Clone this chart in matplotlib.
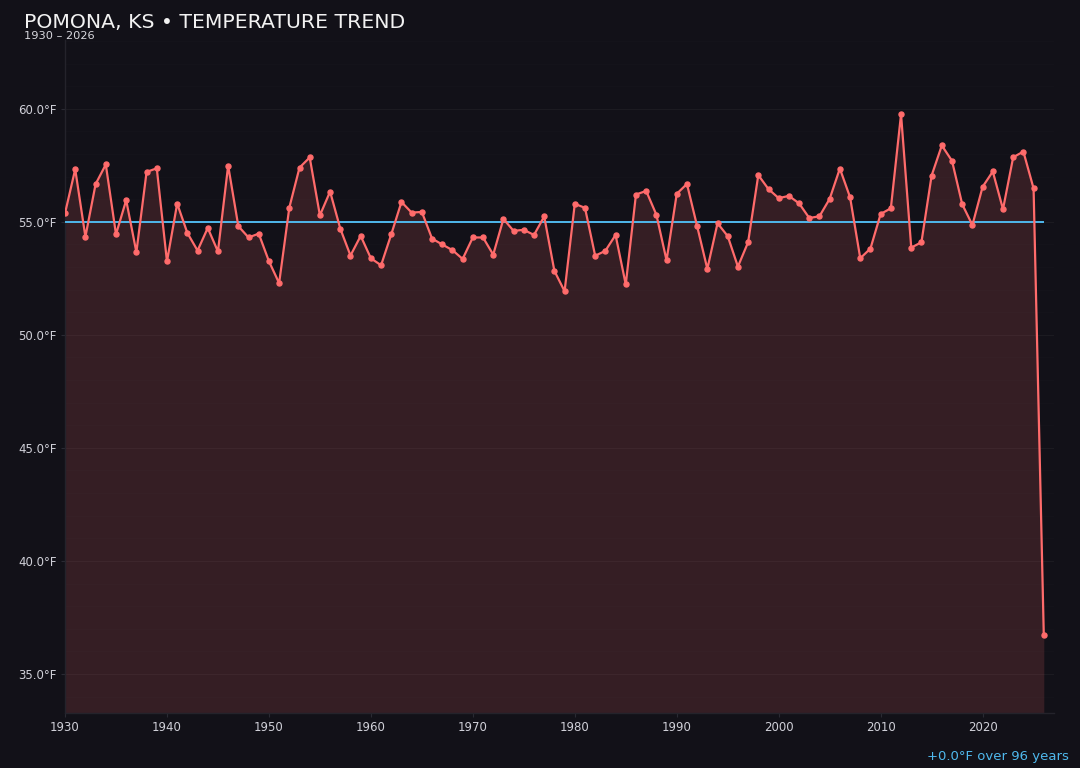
import matplotlib
matplotlib.use("Agg")
import matplotlib.pyplot as plt
from matplotlib.ticker import MultipleLocator, FuncFormatter

# yearly mean temperature, Pomona KS
years = list(range(1930, 2027))
temps = [
    55.38, 57.33, 54.34, 56.67, 57.54, 54.45, 55.96, 53.66, 57.21, 57.37,
    53.25, 55.81, 54.51, 53.73, 54.73, 53.69, 57.49, 54.81, 54.31, 54.48,
    53.26, 52.29, 55.63, 57.40, 57.85, 55.29, 56.34, 54.70, 53.51, 54.38,
    53.39, 53.08, 54.45, 55.88, 55.41, 55.44, 54.26, 54.00, 53.75, 53.36,
    54.31, 54.31, 53.55, 55.13, 54.60, 54.65, 54.42, 55.24, 52.83, 51.93,
    55.80, 55.62, 53.50, 53.72, 54.42, 52.23, 56.21, 56.37, 55.32, 53.30,
    56.24, 56.68, 54.81, 52.92, 54.94, 54.37, 53.02, 54.10, 57.07, 56.45,
    56.05, 56.15, 55.82, 55.17, 55.25, 56.02, 57.36, 56.09, 53.39, 53.82,
    55.35, 55.60, 59.76, 53.86, 54.10, 57.05, 58.38, 57.70, 55.78, 54.86,
    56.55, 57.23, 55.56, 57.86, 58.11, 56.48, 36.73,
]
baseline = 55.0
title = "POMONA, KS • TEMPERATURE TREND"
subtitle = "1930 – 2026"
trend_note = "+0.0°F over 96 years"

bg = "#121118"
red = "#ff6b6b"
blue = "#4fb8ec"

fig = plt.figure(figsize=(10.8, 7.68), dpi=100, facecolor=bg)
ax = fig.add_axes([0.0602, 0.0716, 0.9157, 0.8764])
ax.set_facecolor(bg)

ymin, ymax = 33.27, 63.05
ax.set_xlim(1930, 2027)
ax.set_ylim(ymin, ymax)

ax.fill_between(years, temps, ymin, color=red, alpha=0.15, linewidth=0, zorder=2)
ax.plot(years, temps, color=red, linewidth=1.6, marker="o", markersize=3.6, zorder=4)
ax.hlines(baseline, years[0], years[-1], color=blue, linewidth=1.4, zorder=3)

ax.xaxis.set_major_locator(MultipleLocator(10))
ax.yaxis.set_major_locator(MultipleLocator(5))
ax.yaxis.set_minor_locator(MultipleLocator(1))
ax.yaxis.set_major_formatter(FuncFormatter(lambda v, p: f"{v:.1f}°F"))

ax.grid(axis="y", which="major", color="#ffffff", alpha=0.045, linewidth=0.8, zorder=1)
ax.grid(axis="y", which="minor", color="#ffffff", alpha=0.012, linewidth=0.8, zorder=1)
ax.grid(axis="x", visible=False)
ax.set_axisbelow(True)

ax.tick_params(axis="both", which="major", colors="#2a2a33", labelcolor="#d0d0d8",
               labelsize=8.5, length=3, pad=3)
ax.tick_params(axis="y", which="minor", length=0)

for side in ["top", "right"]:
    ax.spines[side].set_visible(False)
for side in ["left", "bottom"]:
    ax.spines[side].set_color("#24232b")
    ax.spines[side].set_linewidth(1.0)

fig.text(0.022, 0.9635, title, color="#f2f2f2", fontsize=14.7, va="baseline", ha="left")
fig.text(0.022, 0.9496, subtitle, color="#d8d8de", fontsize=8.2, va="baseline", ha="left")
fig.text(0.990, 0.0104, trend_note, color=blue, fontsize=9.5, va="baseline", ha="right")

fig.savefig("out.png", dpi=100, facecolor=bg)
